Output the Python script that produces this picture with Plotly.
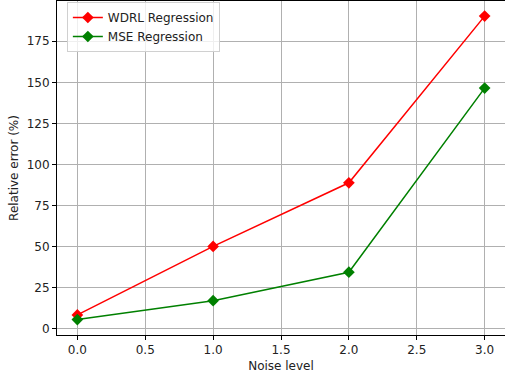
import plotly.graph_objects as go

noise_levels = [0.0, 1.0, 2.0, 3.0]
wdrl_error = [8.5, 50.2, 88.9, 190.3]
mse_error = [5.7, 17.2, 34.5, 146.5]
x_ticks = [0.0, 0.5, 1.0, 1.5, 2.0, 2.5, 3.0]
y_ticks = [0, 25, 50, 75, 100, 125, 150, 175]

fig = go.Figure()
fig.add_trace(go.Scatter(x=noise_levels, y=wdrl_error, mode="lines+markers",
                         name="WDRL Regression",
                         line=dict(color="red", width=1.5),
                         marker=dict(symbol="diamond", size=9, color="red")))
fig.add_trace(go.Scatter(x=noise_levels, y=mse_error, mode="lines+markers",
                         name="MSE Regression",
                         line=dict(color="green", width=1.5),
                         marker=dict(symbol="diamond", size=9, color="green")))

axis_common = dict(showline=True, linecolor="black", linewidth=1, mirror=True,
                   showgrid=True, gridcolor="#b0b0b0", gridwidth=0.8,
                   ticks="outside", ticklen=4, tickcolor="black",
                   zeroline=False, automargin=False,
                   tickfont=dict(family="DejaVu Sans", size=12, color="#222"))

fig.update_layout(
    width=505, height=379,
    margin=dict(l=57, r=0, t=1, b=44),
    paper_bgcolor="white", plot_bgcolor="white",
    font=dict(family="DejaVu Sans", size=12, color="#222"),
    xaxis=dict(range=[-0.15, 3.15], tickvals=x_ticks,
               ticktext=[f"{v:.1f}" for v in x_ticks],
               title=dict(text="Noise level", standoff=5,
                          font=dict(family="DejaVu Sans", size=12)),
               **axis_common),
    yaxis=dict(range=[-3.7, 199.5], tickvals=y_ticks,
               title=dict(text="Relative error (%)", standoff=5,
                          font=dict(family="DejaVu Sans", size=12)),
               **axis_common),
    legend=dict(x=0.022, y=0.997, xanchor="left", yanchor="top",
                bgcolor="rgba(255,255,255,0.8)", bordercolor="#d0d0d0",
                borderwidth=1, font=dict(family="DejaVu Sans", size=12),
                tracegroupgap=0),
    showlegend=True,
)

fig.write_html("out.html",
               config={"displayModeBar": False},
               post_script="document.body.style.margin='0';document.body.style.overflow='hidden';")
